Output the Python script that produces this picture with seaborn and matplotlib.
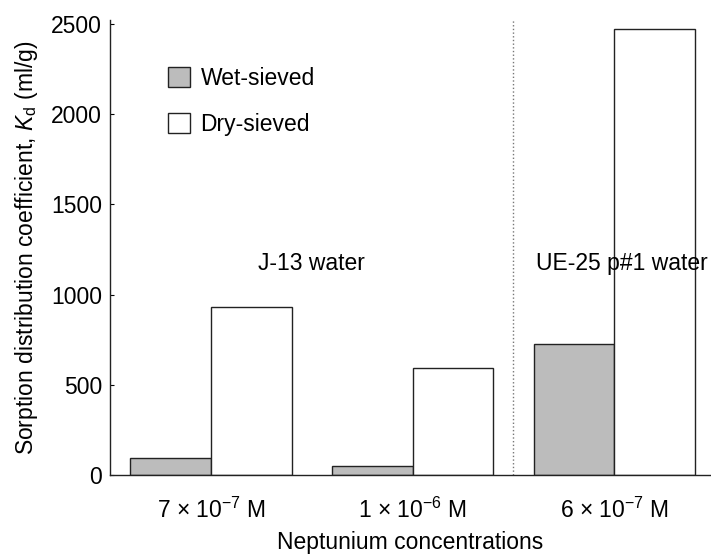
import pandas as pd
import matplotlib.pyplot as plt
import seaborn as sns
from matplotlib.patches import Patch

# data
concentrations = ['7 × 10$^{-7}$ M', '1 × 10$^{-6}$ M', '6 × 10$^{-7}$ M']
wet_sieved = [94, 50, 725]
dry_sieved = [929, 592, 2472]
series = ['Wet-sieved', 'Dry-sieved']

df = pd.DataFrame({
    'conc': concentrations * 2,
    'kd': wet_sieved + dry_sieved,
    'sieve': [series[0]] * 3 + [series[1]] * 3,
})

sns.set_style('white')
plt.rcParams['font.family'] = ['Liberation Sans', 'DejaVu Sans']
plt.rcParams['mathtext.fontset'] = 'custom'
plt.rcParams['mathtext.rm'] = 'Liberation Sans'
plt.rcParams['mathtext.it'] = 'Liberation Sans:italic'
plt.rcParams['text.color'] = 'black'
plt.rcParams['axes.labelcolor'] = 'black'
plt.rcParams['xtick.color'] = 'black'
plt.rcParams['ytick.color'] = 'black'

fs = 16.5
colors = {'Wet-sieved': '#bcbcbc', 'Dry-sieved': 'white'}

fig = plt.figure(figsize=(7.11, 5.57), dpi=100)
ax = fig.add_axes([0.155, 0.147, 0.845, 0.817])

sns.barplot(data=df, x='conc', y='kd', hue='sieve', palette=colors,
            width=0.8, edgecolor='#222222', linewidth=1.0, ax=ax, legend=False)

ax.set_xlim(-0.5, 2.48)
ax.set_ylim(0, 2520)
ax.set_yticks([0, 500, 1000, 1500, 2000, 2500])

# separator between the two water types
ax.axvline(1.5, ls=':', color='#777777', lw=1.0)

ax.text(0.5, 1170, 'J-13 water', ha='center', va='center', fontsize=fs)
ax.text(2.04, 1170, 'UE-25 p#1 water', ha='center', va='center', fontsize=fs)

handles = [Patch(facecolor=colors[s], edgecolor='#222222', linewidth=1.0) for s in series]
ax.legend(handles, series, loc='upper left', bbox_to_anchor=(0.097, 0.897),
          frameon=False, fontsize=fs, handlelength=0.95, handleheight=0.95,
          labelspacing=1.0, handletextpad=0.45, borderpad=0, borderaxespad=0)

ax.set_xlabel('Neptunium concentrations', fontsize=fs, labelpad=6)
ax.set_ylabel('Sorption distribution coefficient, $K_{\\mathrm{d}}$ (ml/g)',
              fontsize=fs, labelpad=8)
ax.tick_params(axis='y', direction='in', length=3, labelsize=fs, left=True, pad=6)
ax.tick_params(axis='x', length=0, labelsize=fs, pad=16)

sns.despine(ax=ax)
for s in ['left', 'bottom']:
    ax.spines[s].set_color('#222222')
    ax.spines[s].set_linewidth(1.0)

plt.savefig('out.png', dpi=100)
